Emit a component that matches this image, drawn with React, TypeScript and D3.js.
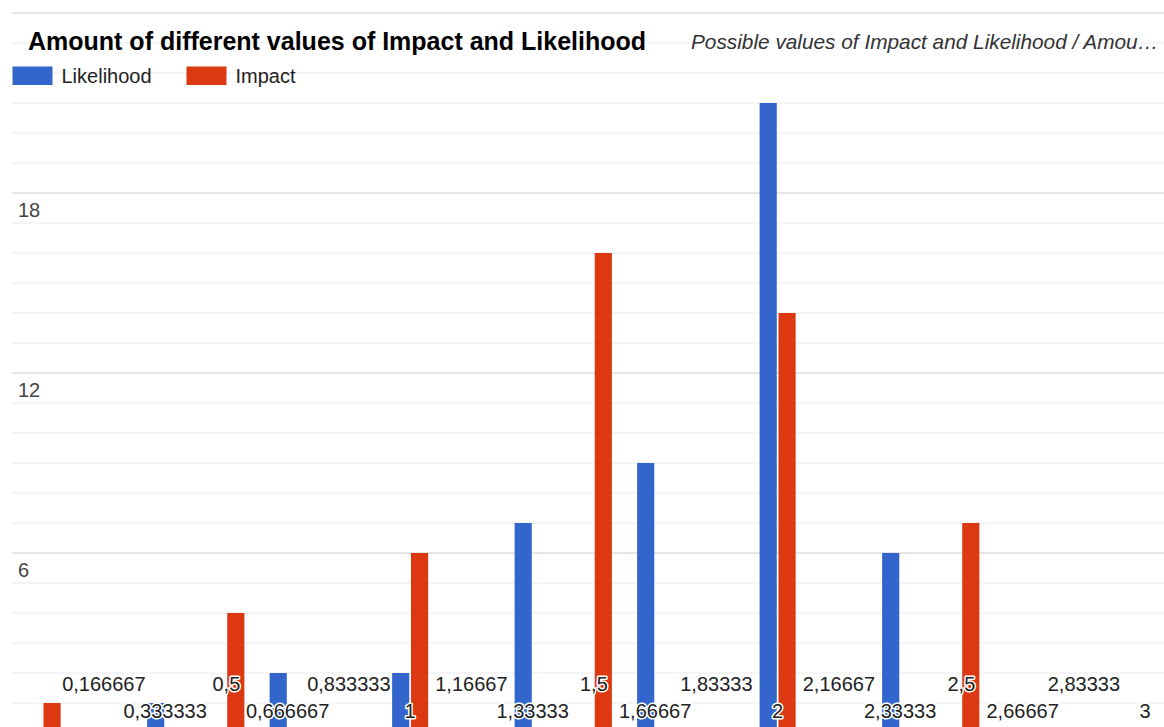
import React from "react";
import * as d3 from "d3";

// Possible values of Impact and Likelihood (x categories)
const categories: string[] = [
  "0", "0,166667", "0,333333", "0,5", "0,666667", "0,833333", "1",
  "1,16667", "1,33333", "1,5", "1,66667", "1,83333", "2",
  "2,16667", "2,33333", "2,5", "2,66667", "2,83333", "3",
];

// Amount of occurrences per value
const likelihood: number[] = [0, 0, 1, 0, 2, 0, 2, 0, 7, 0, 9, 0, 21, 0, 6, 0, 0, 0, 0];
const impact: number[] = [1, 0, 0, 4, 0, 0, 6, 0, 0, 16, 0, 0, 14, 0, 0, 7, 0, 0, 0];

const seriesNames: string[] = ["Likelihood", "Impact"];
const seriesColors: string[] = ["#3366cc", "#dc3912"];

const yTicks: number[] = [6, 12, 18];

const W = 1164;
const H = 727;
const FONT = "'Liberation Sans', Arial, sans-serif";

export default function App() {
  const left = 12;
  const step = 61.25;
  const x = d3
    .scaleBand<string>()
    .domain(categories)
    .range([left, left + step * categories.length])
    .paddingInner(0.412)
    .paddingOuter(0.206);
  const xs = d3
    .scaleBand<string>()
    .domain(seriesNames)
    .range([0, x.bandwidth()])
    .paddingInner(0.09);
  const y = d3.scaleLinear().domain([0, 24]).range([733, 13]);

  const minor = d3.range(0, 25);
  const values = [likelihood, impact];

  return (
    <svg
      width={W}
      height={H}
      style={{ position: "absolute", left: 0, top: 0, background: "#fff" }}
      fontFamily={FONT}
    >
      {/* gridlines */}
      {minor.map((v) => (
        <line
          key={v}
          x1={left}
          x2={W}
          y1={y(v)}
          y2={y(v)}
          stroke={v % 6 === 0 ? "#cccccc" : "#ebebeb"}
          strokeWidth={1}
        />
      ))}

      {/* y tick labels */}
      {yTicks.map((t) => (
        <text key={t} x={18} y={y(t) + 24} fontSize={20} fill="#444">
          {t}
        </text>
      ))}

      {/* bars */}
      {categories.map((c, i) => (
        <g key={c} transform={`translate(${x(c)},0)`}>
          {seriesNames.map((s, k) => {
            const v = values[k][i];
            if (!v) return null;
            return (
              <rect
                key={s}
                x={xs(s)}
                width={xs.bandwidth()}
                y={y(v)}
                height={y(0) - y(v)}
                fill={seriesColors[k]}
              />
            );
          })}
        </g>
      ))}

      {/* x labels, staggered in two rows */}
      {categories.map((c, i) =>
        i === 0 ? null : (
          <text
            key={c}
            x={(x(c) as number) + x.bandwidth() / 2}
            y={i % 2 === 1 ? 691 : 718}
            textAnchor="middle"
            fontSize={20}
            fill="#222"
            stroke="#fff"
            strokeWidth={3}
            paintOrder="stroke"
            strokeLinejoin="round"
          >
            {c}
          </text>
        )
      )}

      {/* title */}
      <text x={28} y={50} fontSize={25} fontWeight="bold" fill="#000">
        Amount of different values of Impact and Likelihood
      </text>
      <text x={691} y={49} fontSize={20.8} fontStyle="italic" fill="#333">
        Possible values of Impact and Likelihood / Amou…
      </text>

      {/* legend */}
      {seriesNames.map((s, k) => {
        const lx = k === 0 ? 12.5 : 186.5;
        return (
          <g key={s}>
            <rect x={lx} y={66.5} width={40} height={18.5} fill={seriesColors[k]} />
            <text x={lx + 49} y={83} fontSize={20} fill="#222">
              {s}
            </text>
          </g>
        );
      })}
    </svg>
  );
}
